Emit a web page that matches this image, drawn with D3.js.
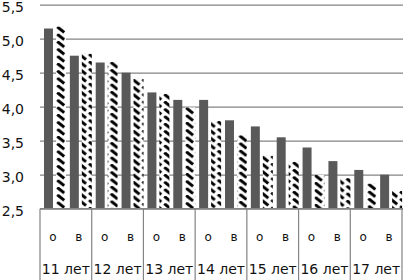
<!DOCTYPE html>
<meta charset="utf-8">
<script src="https://d3js.org/d3.v7.min.js"></script>
<style>
  body { margin: 0; background: #fff; }
  text { font-family: "DejaVu Sans", sans-serif; fill: #111; }
</style>
<body>
<svg id="chart"></svg>
</body>
<script>

var ages = ["11 лет", "12 лет", "13 лет", "14 лет", "15 лет", "16 лет", "17 лет"];
var kinds = ["о", "в"];
var series = ["solid", "hatched"];
var yTicks = [2.5, 3.0, 3.5, 4.0, 4.5, 5.0, 5.5];

// values per age, о then в
var solidValues   = [5.15, 4.75, 4.65, 4.50, 4.21, 4.10, 4.10, 3.80, 3.71, 3.55, 3.40, 3.20, 3.07, 3.00];
var hatchedValues = [5.18, 4.78, 4.66, 4.41, 4.19, 3.99, 3.79, 3.58, 3.28, 3.19, 3.00, 2.95, 2.87, 2.76];

var width = 403, height = 280;
var plotLeft = 40, plotRight = 402, plotTop = 4.7, plotBottom = 208.7;

var svg = d3.select("#chart")
    .attr("width", width)
    .attr("height", height);

var data = [];
ages.forEach(function(a, i) {
  kinds.forEach(function(k, j) {
    var n = i * 2 + j;
    data.push({age: a, kind: k, solid: solidValues[n], hatched: hatchedValues[n]});
  });
});

var xGroup = d3.scaleBand().domain(ages).range([plotLeft, plotRight]);
var xKind = d3.scaleBand().domain(kinds).range([0, xGroup.bandwidth()]);
var xSeries = d3.scaleBand().domain(series).range([4, xKind.bandwidth() - 0.9]).paddingInner(0.25);
var y = d3.scaleLinear().domain([2.5, 5.5]).range([plotBottom, plotTop]);

var ru = d3.formatLocale({decimal: ",", thousands: " ", grouping: [3], currency: ["", ""]});

// grid + y labels
var yAxis = svg.append("g")
    .attr("transform", "translate(" + plotLeft + ",0)")
    .call(d3.axisLeft(y)
      .tickValues(yTicks)
      .tickSize(-(plotRight - plotLeft + 2))
      .tickPadding(16)
      .tickFormat(ru.format(".1f")));
yAxis.select(".domain").remove();
yAxis.selectAll("line").attr("stroke", "#838383").attr("stroke-width", 1.2);
yAxis.selectAll("text")
    .style("font-size", "14px")
    .attr("dy", "0.5em");

// hatch patterns, one per bar so the dashes line up with each bar
var defs = svg.append("defs");
data.forEach(function(d, i) {
  var bx = xGroup(d.age) + xKind(d.kind) + xSeries("hatched");
  var p = defs.append("pattern")
      .attr("id", "hatch" + i)
      .attr("patternUnits", "userSpaceOnUse")
      .attr("x", bx)
      .attr("y", y(d.hatched))
      .attr("width", xSeries.bandwidth() + 1)
      .attr("height", 7.3);
  p.append("rect").attr("width", 20).attr("height", 20).attr("fill", "#fff");
  p.append("line")
      .attr("x1", 1.2).attr("y1", 0.4)
      .attr("x2", 8.2).attr("y2", 6)
      .attr("stroke", "#000")
      .attr("stroke-width", 3)
      .attr("stroke-linecap", "butt");
});

var cat = svg.selectAll(".cat")
    .data(data)
  .enter().append("g")
    .attr("class", "cat")
    .attr("transform", function(d) { return "translate(" + (xGroup(d.age) + xKind(d.kind)) + ",0)"; });

cat.append("rect")
    .attr("x", xSeries("solid"))
    .attr("width", xSeries.bandwidth())
    .attr("y", function(d) { return y(d.solid); })
    .attr("height", function(d) { return y(2.5) - y(d.solid); })
    .attr("fill", "#595959");

cat.append("rect")
    .attr("x", xSeries("hatched"))
    .attr("width", xSeries.bandwidth() + 1)
    .attr("y", function(d) { return y(d.hatched); })
    .attr("height", function(d) { return y(2.5) - y(d.hatched); })
    .attr("fill", function(d, i) { return "url(#hatch" + i + ")"; });

// category axis box
svg.append("line")
    .attr("x1", plotLeft).attr("x2", plotRight + 2)
    .attr("y1", plotBottom).attr("y2", plotBottom)
    .attr("stroke", "#838383").attr("stroke-width", 1.2);

svg.selectAll(".sep")
    .data(ages.concat(["end"]))
  .enter().append("line")
    .attr("x1", function(d) { return d == "end" ? plotRight : xGroup(d); })
    .attr("x2", function(d) { return d == "end" ? plotRight : xGroup(d); })
    .attr("y1", plotBottom).attr("y2", height)
    .attr("stroke", "#838383").attr("stroke-width", 1.2);

cat.append("text")
    .attr("x", xKind.bandwidth() / 2)
    .attr("y", 241)
    .attr("text-anchor", "middle")
    .style("font-size", "12px")
    .text(function(d) { return d.kind; });

svg.selectAll(".age")
    .data(ages)
  .enter().append("text")
    .attr("class", "age")
    .attr("x", function(d) { return xGroup(d) + xGroup.bandwidth() / 2; })
    .attr("y", 274)
    .attr("text-anchor", "middle")
    .style("font-size", "14px")
    .text(function(d) { return d; });

</script>
